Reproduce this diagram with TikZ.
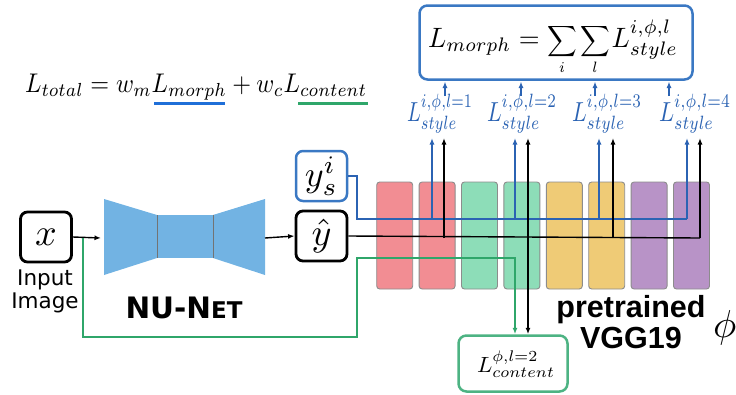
\RequirePackage{fix-cm}
\documentclass[tikz,border=0pt]{standalone}
\usepackage{amsmath}
\usepackage{exscale}
\usepackage{fontspec}
\usepackage{graphicx}
\usetikzlibrary{arrows.meta}
\newfontfamily\dejavu{DejaVu Sans}
\newfontfamily\libsans{Liberation Sans}
\definecolor{bblue}{HTML}{3A78C3}
\definecolor{lblue}{HTML}{2B63B3}
\definecolor{ulblue}{HTML}{1F6FD8}
\definecolor{ggreen}{HTML}{2FA66A}
\definecolor{boxgreen}{HTML}{4DB383}
\definecolor{netblue}{HTML}{72B3E3}
\definecolor{vred}{HTML}{F28D93}
\definecolor{vgreen}{HTML}{8DDDB8}
\definecolor{vyellow}{HTML}{EFCB76}
\definecolor{vpurple}{HTML}{B893C7}
\begin{document}
\begin{tikzpicture}[x=1pt,y=-1pt,
  arr/.style={-{Latex[length=6.5pt,width=5pt]}},
  bkbox/.style={draw=black,line width=2.8pt,rounded corners=7pt,minimum width=51pt,minimum height=50pt,inner sep=0pt,fill=white},
  blbox/.style={draw=bblue,line width=2.5pt,rounded corners=7pt,minimum width=51pt,minimum height=50pt,inner sep=0pt,fill=white},
  vgg/.style={draw=black!45,line width=0.9pt,rounded corners=3pt,minimum width=36pt,minimum height=107pt,inner sep=0pt},
  stylelab/.style={anchor=base,text=lblue,inner sep=0pt},
  bline/.style={lblue,line width=1.3pt},
  kline/.style={black,line width=1.4pt},
  gline/.style={ggreen,line width=1.3pt}]
\path[use as bounding box] (0,0) rectangle (736,394);

% total loss
\node[anchor=base west,inner sep=0pt] (eq) at (25,92)
  {\resizebox{342pt}{\height}{\scalebox{2.7}{$L_{total}=w_m L_{morph}+w_c L_{content}$}}};
\coordinate (ub1) at (154,103); \coordinate (ub2) at (225,103);
\coordinate (ug1) at (298,103); \coordinate (ug2) at (368,103);
\draw[ulblue,line width=3pt] (ub1) -- (ub2);
\draw[ggreen,line width=3pt] (ug1) -- (ug2);

% morph box
\node[draw=bblue,line width=2.5pt,rounded corners=8pt,minimum width=273pt,minimum height=74pt,inner sep=0pt] (morph) at (556,42.5) {};
\node[anchor=base,inner sep=0pt] (morphtxt) at (553,47)
  {\resizebox{250pt}{\height}{\scalebox{2.8}{$L_{morph}={}$}\scalebox{2.15}{$\displaystyle\sum_i\sum_l$}\,\scalebox{2.8}{$L^{i,\phi,l}_{style}$}}};

% style labels
\node[stylelab] (s1) at (440,121) {\resizebox{66pt}{\height}{\scalebox{2.75}{$L^{i,\phi,l=1}_{style}$}}};
\node[stylelab] (s2) at (522,121) {\resizebox{70pt}{\height}{\scalebox{2.75}{$L^{i,\phi,l=2}_{style}$}}};
\node[stylelab] (s3) at (607,121) {\resizebox{70pt}{\height}{\scalebox{2.75}{$L^{i,\phi,l=3}_{style}$}}};
\node[stylelab] (s4) at (695,121) {\resizebox{72pt}{\height}{\scalebox{2.75}{$L^{i,\phi,l=4}_{style}$}}};
\foreach \xx in {445,521,595,669}
  \draw[bline,arr] (\xx,96) -- (\xx,81.5);

% input and network
\node[bkbox] (x) at (46,237) {\scalebox{3.8}{$x$}};
\node[anchor=base,inner sep=0pt] (inlab1) at (45,285) {\dejavu\fontsize{21.5}{25}\selectfont Input};
\node[anchor=base,inner sep=0pt] (inlab2) at (45,308) {\dejavu\fontsize{21.5}{25}\selectfont Image};
\fill[netblue] (104,199) -- (157,215) -- (157,258) -- (104,275) -- cycle;
\fill[netblue] (157,215) rectangle (213,258);
\fill[netblue] (213,215) -- (265,199) -- (265,275) -- (213,258) -- cycle;
\draw[black!55,line width=0.8pt] (157,215) -- (157,258) (213,215) -- (213,258);
\coordinate (netin) at (101,238);
\coordinate (netout) at (265,238);
\node[anchor=base,inner sep=0pt] (nunet) at (184,318) {\dejavu\bfseries\fontsize{29.5}{34}\selectfont NU-N{\fontsize{23}{27}\selectfont ET}};
\node[bkbox] (yhat) at (321.5,236) {\scalebox{3.8}{$\hat y$}};
\node[blbox] (ys) at (321.5,176) {\scalebox{3.6}{$y_s^i$}};
\draw[kline,arr] (x.east) -- (netin);
\draw[kline,arr] (netout) -- (yhat.west);

% VGG blocks
\node[vgg,fill=vred]    (b1) at (394.7,235.5) {};
\node[vgg,fill=vred]    (b2) at (437.1,235.5) {};
\node[vgg,fill=vgreen]  (b3) at (479.5,235.5) {};
\node[vgg,fill=vgreen]  (b4) at (521.9,235.5) {};
\node[vgg,fill=vyellow] (b5) at (564.3,235.5) {};
\node[vgg,fill=vyellow] (b6) at (606.7,235.5) {};
\node[vgg,fill=vpurple] (b7) at (649.1,235.5) {};
\node[vgg,fill=vpurple] (b8) at (691.5,235.5) {};

\node[anchor=base,inner sep=0pt] (pre) at (631,317) {\libsans\bfseries\fontsize{30.5}{34}\selectfont pretrained};
\node[anchor=base,inner sep=0pt] (vggl) at (631,348) {\libsans\bfseries\fontsize{30.5}{34}\selectfont VGG19};
\node[anchor=base west,inner sep=0pt] (phi) at (713,337) {\scalebox{3.9}{$\phi$}};

% content box
\node[draw=boxgreen,line width=2.5pt,rounded corners=8pt,minimum width=109pt,minimum height=56pt,inner sep=0pt,fill=white] (cont) at (513,363.5) {};
\node[anchor=base,inner sep=0pt] (conttxt) at (516,372)
  {\resizebox{78pt}{\height}{\scalebox{2.2}{$L^{\phi,l=2}_{content}$}}};

% blue style-target path
\coordinate (bj) at (357,219);
\draw[bline] (ys.east) -| (bj) -- (687,219);
\foreach \xx in {432,515,599,687}
  \draw[bline,arr] (\xx,219) -- (\xx,138);
% black output path
\draw[kline] (yhat.east) -- (700,238);
\foreach \xx in {444,528,613,700}
  \draw[kline,arr] (\xx,238) -- (\xx,138);
\draw[kline,arr] (528,238) -- (528,0 |- cont.north);
% green content path
\coordinate (gj) at (83,238);
\draw[gline,arr] (gj) |- (357,337) |- (515,258) -- (515,0 |- cont.north);
\end{tikzpicture}
\end{document}
